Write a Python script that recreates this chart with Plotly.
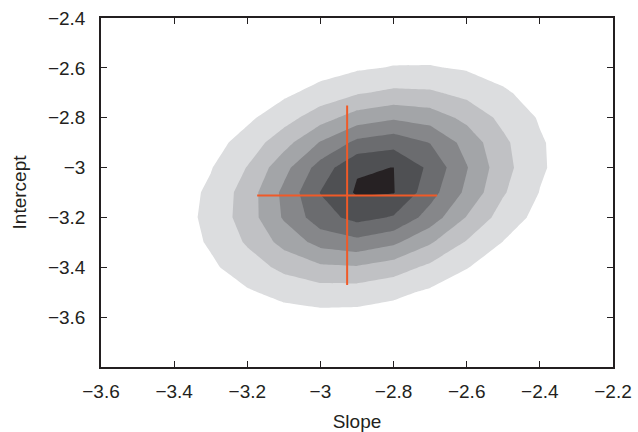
import plotly.graph_objects as go

# Grid of the likelihood surface (slope on x, intercept on y)
slope_grid = [-3.6, -3.5, -3.4, -3.3, -3.2, -3.1, -3.0, -2.9, -2.8, -2.7, -2.6, -2.5, -2.4, -2.3, -2.2]
intercept_grid = [-3.8, -3.7, -3.6, -3.5, -3.4, -3.3, -3.2, -3.1, -3.0, -2.9, -2.8, -2.7, -2.6, -2.5, -2.4]

# z values (rows follow intercept_grid, columns follow slope_grid)
z_row_m38 = [0.00, 0.01, 0.02, 0.04, 0.06, 0.08, 0.08, 0.07, 0.05, 0.03, 0.02, 0.01, 0.00, 0.00, 0.00]
z_row_m37 = [0.01, 0.03, 0.06, 0.11, 0.18, 0.24, 0.26, 0.24, 0.18, 0.11, 0.06, 0.02, 0.01, 0.00, 0.00]
z_row_m36 = [0.02, 0.05, 0.13, 0.26, 0.44, 0.60, 0.69, 0.65, 0.51, 0.33, 0.18, 0.08, 0.03, 0.01, 0.00]
z_row_m35 = [0.03, 0.10, 0.24, 0.51, 0.89, 1.28, 1.52, 1.51, 1.24, 0.84, 0.47, 0.22, 0.09, 0.03, 0.01]
z_row_m34 = [0.05, 0.14, 0.38, 0.83, 1.50, 2.26, 2.81, 2.90, 2.49, 1.77, 1.04, 0.51, 0.21, 0.07, 0.02]
z_row_m33 = [0.05, 0.18, 0.49, 1.12, 2.12, 3.33, 4.34, 4.69, 4.20, 3.11, 1.91, 0.97, 0.41, 0.14, 0.04]
z_row_m32 = [0.05, 0.18, 0.53, 1.26, 2.50, 4.11, 5.59, 6.32, 5.91, 4.57, 2.94, 1.56, 0.69, 0.25, 0.08]
z_row_m31 = [0.04, 0.16, 0.48, 1.19, 2.47, 4.24, 6.03, 7.12, 7.05, 5.40, 3.78, 2.10, 0.97, 0.37, 0.12]
z_row_m30 = [0.03, 0.11, 0.36, 0.94, 2.04, 3.66, 5.43, 6.90, 7.01, 5.78, 4.06, 2.36, 1.14, 0.45, 0.15]
z_row_m29 = [0.02, 0.07, 0.23, 0.62, 1.40, 2.63, 4.08, 5.26, 5.62, 4.97, 3.64, 2.21, 1.11, 0.46, 0.16]
z_row_m28 = [0.01, 0.04, 0.12, 0.34, 0.81, 1.58, 2.57, 3.46, 3.86, 3.56, 2.73, 1.73, 0.91, 0.40, 0.14]
z_row_m27 = [0.00, 0.02, 0.05, 0.16, 0.39, 0.80, 1.35, 1.90, 2.21, 2.14, 1.71, 1.13, 0.62, 0.28, 0.11]
z_row_m26 = [0.00, 0.01, 0.02, 0.06, 0.16, 0.34, 0.59, 0.87, 1.06, 1.07, 0.90, 0.62, 0.36, 0.17, 0.07]
z_row_m25 = [0.00, 0.00, 0.01, 0.02, 0.05, 0.12, 0.22, 0.34, 0.43, 0.45, 0.39, 0.28, 0.17, 0.09, 0.04]
z_row_m24 = [0.00, 0.00, 0.00, 0.01, 0.02, 0.04, 0.07, 0.11, 0.14, 0.16, 0.14, 0.11, 0.07, 0.04, 0.02]

z_rows = [z_row_m38, z_row_m37, z_row_m36, z_row_m35, z_row_m34, z_row_m33, z_row_m32,
          z_row_m31, z_row_m30, z_row_m29, z_row_m28, z_row_m27, z_row_m26, z_row_m25, z_row_m24]

# Best-fit estimate and its error ranges
best_slope = -2.927
best_intercept = -3.112
slope_range = [-3.173, -2.681]
intercept_range = [-3.471, -2.751]

# Tick labels
x_tick_vals = [-3.6, -3.4, -3.2, -3.0, -2.8, -2.6, -2.4, -2.2]
x_tick_text = ["\u22123.6", "\u22123.4", "\u22123.2", "\u22123", "\u22122.8", "\u22122.6", "\u22122.4", "\u22122.2"]
y_tick_vals = [-3.6, -3.4, -3.2, -3.0, -2.8, -2.6, -2.4]
y_tick_text = ["\u22123.6", "\u22123.4", "\u22123.2", "\u22123", "\u22122.8", "\u22122.6", "\u22122.4"]

shades = ["#ffffff", "#dcdddf", "#c0c1c4", "#a3a5a8", "#86878a", "#6b6c6f", "#4f5053", "#262123"]
colorscale = [[k / 7, c] for k, c in enumerate(shades)]

fig = go.Figure()
fig.add_trace(go.Contour(
    x=slope_grid, y=intercept_grid, z=z_rows,
    contours=dict(start=1, end=7, size=1, coloring="fill", showlines=False),
    line=dict(width=0, smoothing=0),
    colorscale=colorscale, showscale=False, hoverinfo="skip",
))
fig.add_trace(go.Scatter(
    x=slope_range, y=[best_intercept, best_intercept], mode="lines",
    line=dict(color="#f05a28", width=2), showlegend=False, hoverinfo="skip"))
fig.add_trace(go.Scatter(
    x=[best_slope, best_slope], y=intercept_range, mode="lines",
    line=dict(color="#f05a28", width=2), showlegend=False, hoverinfo="skip"))

axis_common = dict(
    showline=True, linecolor="#231f20", linewidth=1.5, mirror="ticks",
    ticks="inside", ticklen=6, tickwidth=1, tickcolor="#231f20",
    showgrid=False, zeroline=False, automargin=False,
    tickfont=dict(family="Liberation Sans", size=19, color="#231f20"),
)
fig.update_xaxes(range=[-3.6, -2.2], tickvals=x_tick_vals, ticktext=x_tick_text,
                 title=dict(text="Slope", font=dict(family="Liberation Sans", size=19, color="#231f20"), standoff=15),
                 ticklabelstandoff=6, **axis_common)
fig.update_yaxes(range=[-3.8, -2.4], tickvals=y_tick_vals, ticktext=y_tick_text,
                 title=dict(text="Intercept", font=dict(family="Liberation Sans", size=19, color="#231f20"), standoff=16),
                 ticklabelstandoff=10, **axis_common)
fig.update_layout(
    width=638, height=432,
    margin=dict(l=101, r=25, t=18, b=65),
    paper_bgcolor="white", plot_bgcolor="white",
    showlegend=False,
)
fig.write_html("out.html")
